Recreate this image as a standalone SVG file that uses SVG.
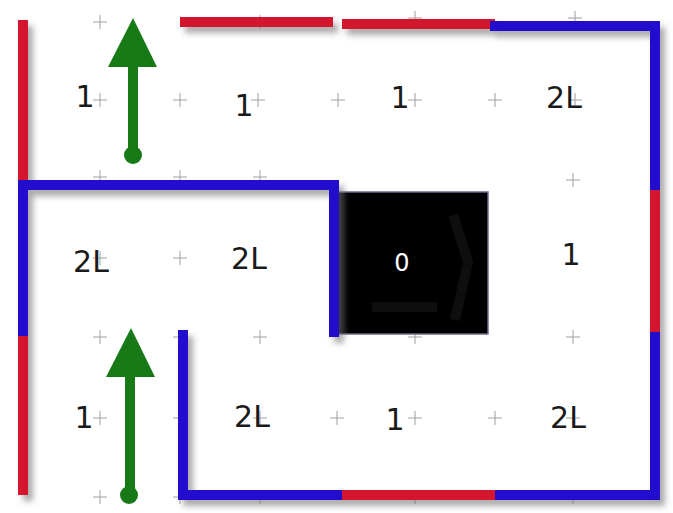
<svg xmlns="http://www.w3.org/2000/svg" width="673" height="513" viewBox="0 0 673 513">
<style>
.cr{stroke:#a0a0a0;stroke-width:1;fill:none}
.r{stroke:#d3132e;stroke-width:10;fill:none;stroke-linecap:butt}
.b{stroke:#2408cc;stroke-width:10;fill:none;stroke-linecap:square}
.t{font-family:"DejaVu Sans",sans-serif;font-size:30px;fill:#1a1a1a;text-anchor:middle}
.g{fill:#177a17}
</style>
<defs>
<filter id="sh" x="-10%" y="-10%" width="130%" height="130%">
<feDropShadow dx="5" dy="6" stdDeviation="3" flood-color="#707070" flood-opacity="0.6"/>
</filter>
<path id="c" d="M-7 0H7M0 -7V7"/>
</defs>
<rect width="673" height="513" fill="#fff"/>
<g id="grid">
<use href="#c" class="cr" x="100" y="22"/><use href="#c" class="cr" x="260" y="22"/><use href="#c" class="cr" x="415" y="18"/><use href="#c" class="cr" x="575" y="18"/>
<use href="#c" class="cr" x="100" y="100"/><use href="#c" class="cr" x="180" y="100"/><use href="#c" class="cr" x="258" y="100"/><use href="#c" class="cr" x="338" y="100"/><use href="#c" class="cr" x="415" y="100"/><use href="#c" class="cr" x="495" y="100"/><use href="#c" class="cr" x="575" y="100"/>
<use href="#c" class="cr" x="100" y="177"/><use href="#c" class="cr" x="180" y="177"/><use href="#c" class="cr" x="260" y="177"/><use href="#c" class="cr" x="573" y="180"/>
<use href="#c" class="cr" x="100" y="258"/><use href="#c" class="cr" x="180" y="258"/>
<use href="#c" class="cr" x="100" y="337"/><use href="#c" class="cr" x="180" y="337"/><use href="#c" class="cr" x="260" y="337"/><use href="#c" class="cr" x="415" y="337"/><use href="#c" class="cr" x="573" y="337"/>
<use href="#c" class="cr" x="100" y="418"/><use href="#c" class="cr" x="180" y="418"/><use href="#c" class="cr" x="260" y="418"/><use href="#c" class="cr" x="337" y="418"/><use href="#c" class="cr" x="415" y="418"/><use href="#c" class="cr" x="495" y="418"/><use href="#c" class="cr" x="573" y="418"/>
<use href="#c" class="cr" x="100" y="497"/><use href="#c" class="cr" x="180" y="497"/><use href="#c" class="cr" x="260" y="497"/><use href="#c" class="cr" x="415" y="497"/><use href="#c" class="cr" x="573" y="497"/>
</g>
<g id="block">
<rect x="338" y="192" width="150" height="142" fill="#000" stroke="#6a6a8a" stroke-width="1.5"/>
<path d="M453 215 L468 262 L455 320" stroke="#0e0e0e" stroke-width="10" fill="none"/>
<path d="M372 307 H437" stroke="#0e0e0e" stroke-width="10" fill="none"/>
<text x="402" y="271" class="t" style="fill:#fff;font-size:24px">0</text>
</g>
<g id="walls" filter="url(#sh)">
<path class="r" d="M23 20V180"/>
<path class="r" d="M180 22H333"/>
<path class="r" d="M342 24H495"/>
<path class="b" d="M495 26H655V190"/>
<path class="r" d="M655 190V337"/>
<path class="b" d="M655 337V495H496"/>
<path class="r" d="M495 495H342"/>
<path class="b" d="M337 495H183V335"/>
<path class="b" d="M334 332V185H23V333"/>
<path class="r" d="M23 336V495"/>
</g>
<g id="arrow1">
<rect x="128" y="62" width="10" height="94" class="g"/>
<polygon points="133,18 108,67 157,67" class="g"/>
<circle cx="133" cy="155" r="9" class="g"/>
</g>
<g id="arrow2">
<rect x="125" y="372" width="10" height="124" class="g"/>
<polygon points="131,328 106,377 155,377" class="g"/>
<circle cx="129" cy="495" r="9" class="g"/>
</g>
<g id="labels">
<text x="85" y="107" class="t">1</text>
<text x="244" y="116" class="t">1</text>
<text x="400" y="108" class="t">1</text>
<text x="564" y="108" class="t">2L</text>
<text x="91" y="272" class="t">2L</text>
<text x="249" y="269" class="t">2L</text>
<text x="571" y="265" class="t">1</text>
<text x="84" y="428" class="t">1</text>
<text x="252" y="427" class="t">2L</text>
<text x="395" y="430" class="t">1</text>
<text x="568" y="428" class="t">2L</text>
</g>
</svg>
